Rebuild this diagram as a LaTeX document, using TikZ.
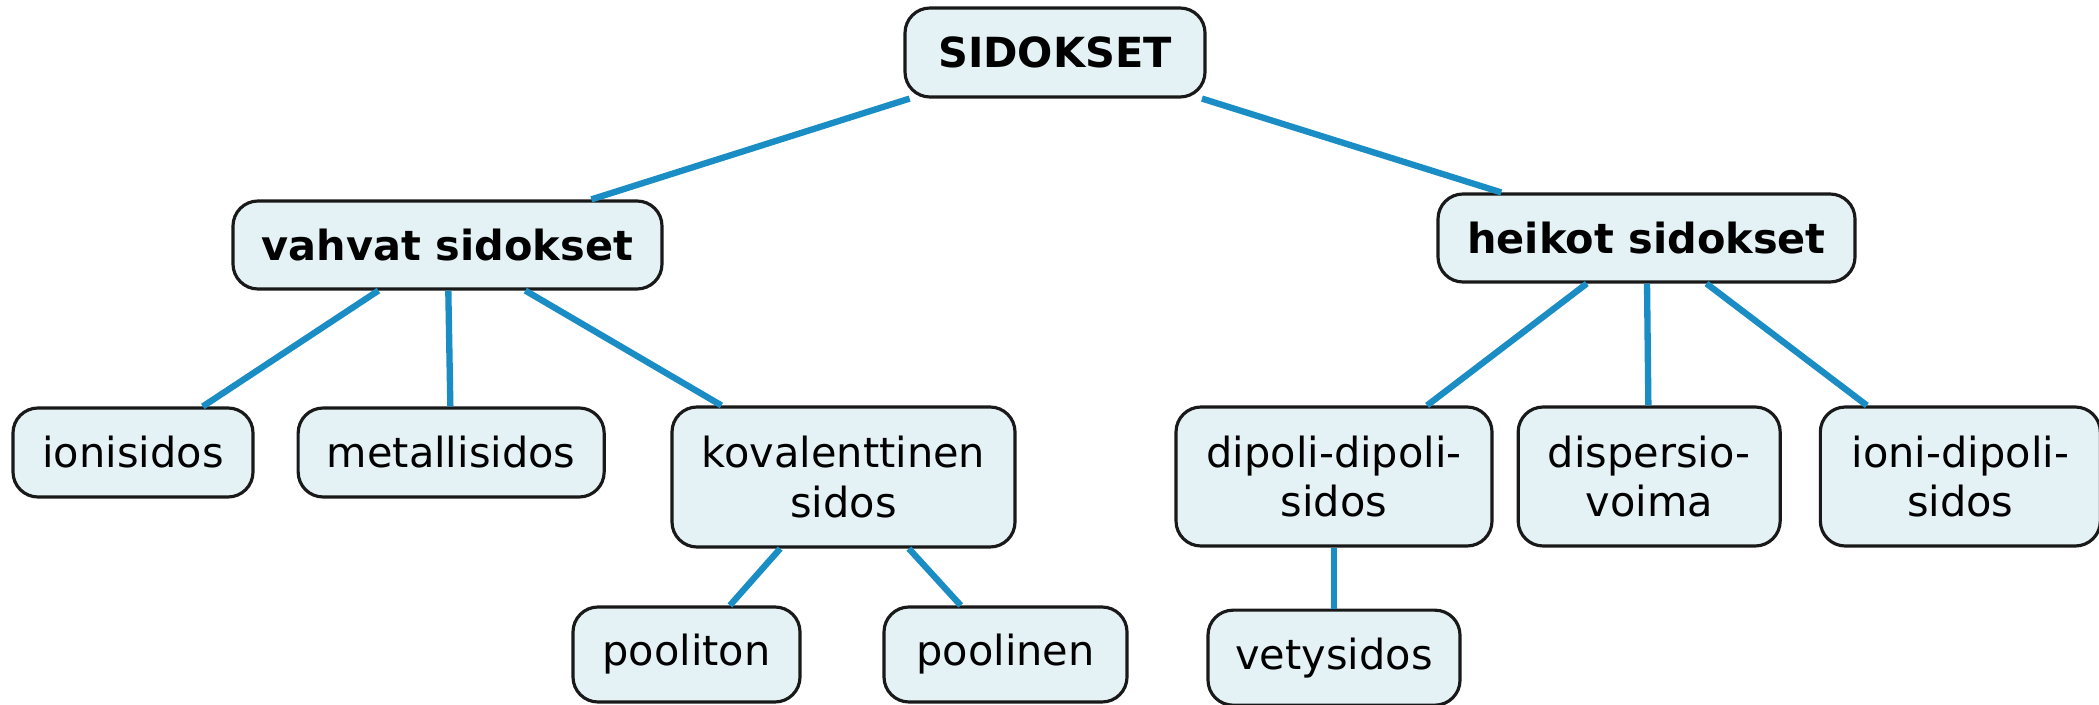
\documentclass[tikz,border=0pt]{standalone}
\usepackage{fontspec}
\setmainfont{DejaVu Sans}
\usepackage{xcolor}
\usetikzlibrary{positioning}

\definecolor{boxfill}{HTML}{E4F1F5}
\definecolor{linkblue}{HTML}{1B8DC5}

\begin{document}
\begin{tikzpicture}[
	node distance=0.4cm,
	box/.style={
		rectangle,
		rounded corners=0.25cm,
		draw=black!90,
		line width=0.9pt,
		fill=boxfill,
		align=center,
		inner sep=2pt,
		font=\fontsize{11.8}{14.2}\selectfont,
		minimum height=0.89cm
	},
	main/.style={
		box,
		font=\fontsize{11.8}{14.2}\selectfont\bfseries
	},
	link/.style={
		draw=linkblue,
		line width=1.8pt
	}
	]
	
	\useasboundingbox (0,0) rectangle (20.99,7.04);
	
	\node[main, minimum width=3cm] (sidokset) at (10.55,6.515) {SIDOKSET};
	\node[main, minimum width=4.29cm, minimum height=0.88cm] (vahvat) at (4.475,4.59) {vahvat sidokset};
	\node[main, minimum width=4.17cm, minimum height=0.88cm] (heikot) at (16.465,4.66) {heikot sidokset};
	
	\node[box, minimum width=2.4cm] (ioni) at (1.33,2.515) {ionisidos};
	\node[box, minimum width=3.06cm] (metalli) [right=0.42cm of ioni] {metallisidos};
	\node[box, minimum width=3.43cm, minimum height=1.4cm] (kovalentti) at (8.435,2.27) {kovalenttinen\\sidos};
	\node[box, minimum width=2.27cm, minimum height=0.95cm] (pooliton) at (6.865,0.495) {pooliton};
	\node[box, minimum width=2.43cm, minimum height=0.95cm] (poolinen) at (10.055,0.495) {poolinen};
	
	\node[box, minimum width=3.16cm, minimum height=1.39cm] (dipoli) at (13.34,2.275) {dipoli-dipoli-\\sidos};
	\node[box, minimum width=2.62cm, minimum height=1.39cm] (dispersio) [right=0.23cm of dipoli] {dispersio-\\voima};
	\node[box, minimum width=2.8cm, minimum height=1.39cm] (ionidipoli) [right=0.37cm of dispersio] {ioni-dipoli-\\sidos};
	\node[box, minimum width=2.52cm, minimum height=0.95cm] (vety) [below=0.61cm of dipoli] {vetysidos};
	
	\draw[link] (sidokset) -- (vahvat);
	\draw[link] (sidokset) -- (heikot);
	\draw[link] (vahvat) -- (ioni);
	\draw[link] (vahvat) -- (metalli);
	\draw[link] (vahvat) -- (kovalentti);
	\draw[link] (kovalentti) -- (pooliton);
	\draw[link] (kovalentti) -- (poolinen);
	\draw[link] (heikot) -- (dipoli);
	\draw[link] (heikot) -- (dispersio);
	\draw[link] (heikot) -- (ionidipoli);
	\draw[link] (dipoli) -- (vety);
	
\end{tikzpicture}
\end{document}
